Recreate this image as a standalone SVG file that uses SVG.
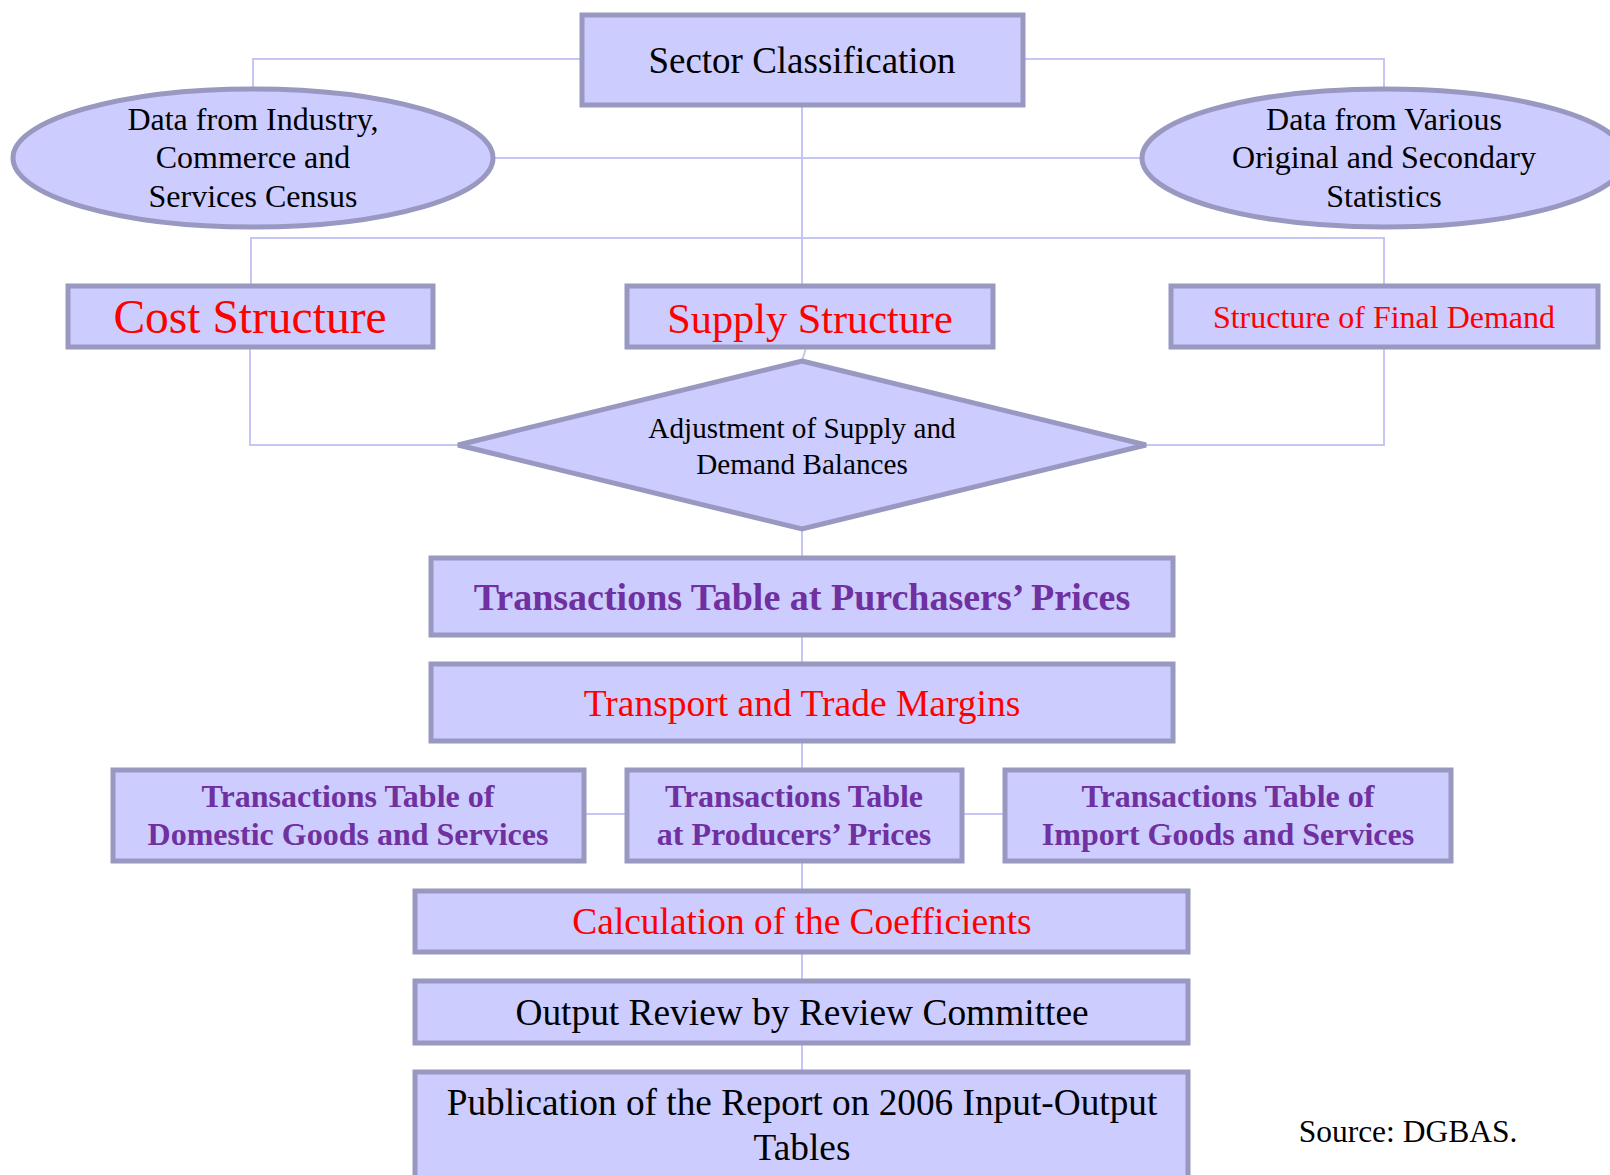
<svg xmlns="http://www.w3.org/2000/svg" width="1610" height="1175" viewBox="0 0 1610 1175">
<style>
.box{fill:#ccccff;stroke:#9898c0;stroke-width:5}
.con{fill:none;stroke:#c6c6f6;stroke-width:2}
text{font-family:"Liberation Serif","Times New Roman",serif;text-anchor:middle}
.blk{fill:#000}
.red{fill:#ff0000}
.pur{fill:#7030a0;font-weight:bold}
</style>
<rect width="1610" height="1175" fill="#ffffff"/>
<g id="connectors">
<polyline class="con" points="582,59 253,59 253,89"/>
<polyline class="con" points="1023,59 1384,59 1384,89"/>
<line class="con" x1="802" y1="106" x2="802" y2="285"/>
<line class="con" x1="493" y1="158" x2="1142" y2="158"/>
<polyline class="con" points="251,285 251,238 1384,238 1384,285"/>
<line class="con" x1="806" y1="348" x2="802" y2="361"/>
<polyline class="con" points="250,348 250,445 458,445"/>
<polyline class="con" points="1384,348 1384,445 1146,445"/>
<line class="con" x1="802" y1="529" x2="802" y2="557"/>
<line class="con" x1="802" y1="636" x2="802" y2="663"/>
<line class="con" x1="802" y1="742" x2="802" y2="769"/>
<line class="con" x1="585" y1="814" x2="627" y2="814"/>
<line class="con" x1="962" y1="814" x2="1005" y2="814"/>
<line class="con" x1="802" y1="862" x2="802" y2="890"/>
<line class="con" x1="802" y1="953" x2="802" y2="980"/>
<line class="con" x1="802" y1="1044" x2="802" y2="1071"/>
</g>
<g id="sector-classification">
<rect class="box" x="582" y="15" width="441" height="90"/>
<text class="blk" x="802" y="73" font-size="37">Sector Classification</text>
</g>
<g id="data-census">
<ellipse class="box" cx="253" cy="158" rx="240" ry="69"/>
<text class="blk" font-size="32"><tspan x="253" y="130">Data from Industry,</tspan><tspan x="253" y="168">Commerce and</tspan><tspan x="253" y="207">Services Census</tspan></text>
</g>
<g id="data-statistics">
<ellipse class="box" cx="1384" cy="158" rx="242" ry="69"/>
<text class="blk" font-size="32"><tspan x="1384" y="130">Data from Various</tspan><tspan x="1384" y="168">Original and Secondary</tspan><tspan x="1384" y="207">Statistics</tspan></text>
</g>
<g id="cost-structure">
<rect class="box" x="68" y="286" width="365" height="61"/>
<text class="red" x="250" y="333" font-size="47.5">Cost Structure</text>
</g>
<g id="supply-structure">
<rect class="box" x="627" y="286" width="366" height="61"/>
<text class="red" x="810" y="333" font-size="42.3">Supply Structure</text>
</g>
<g id="final-demand">
<rect class="box" x="1171" y="286" width="427" height="61"/>
<text class="red" x="1384" y="328" font-size="32">Structure of Final Demand</text>
</g>
<g id="adjustment">
<polygon class="box" points="802,361 1146,445 802,529 458,445"/>
<text class="blk" font-size="29.2"><tspan x="802" y="438">Adjustment of Supply and</tspan><tspan x="802" y="474">Demand Balances</tspan></text>
</g>
<g id="purchasers-prices">
<rect class="box" x="431" y="558" width="742" height="77"/>
<text class="pur" x="802" y="610" font-size="38">Transactions Table at Purchasers’ Prices</text>
</g>
<g id="margins">
<rect class="box" x="431" y="664" width="742" height="77"/>
<text class="red" x="802" y="716" font-size="37.5">Transport and Trade Margins</text>
</g>
<g id="domestic">
<rect class="box" x="113" y="770" width="471" height="91"/>
<text class="pur" font-size="32"><tspan x="348" y="807">Transactions Table of</tspan><tspan x="348" y="845">Domestic Goods and Services</tspan></text>
</g>
<g id="producers-prices">
<rect class="box" x="627" y="770" width="335" height="91"/>
<text class="pur" font-size="32"><tspan x="794" y="807">Transactions Table</tspan><tspan x="794" y="845">at Producers’ Prices</tspan></text>
</g>
<g id="import">
<rect class="box" x="1005" y="770" width="446" height="91"/>
<text class="pur" font-size="32"><tspan x="1228" y="807">Transactions Table of</tspan><tspan x="1228" y="845">Import Goods and Services</tspan></text>
</g>
<g id="coefficients">
<rect class="box" x="415" y="891" width="773" height="61"/>
<text class="red" x="802" y="934" font-size="37.4">Calculation of the Coefficients</text>
</g>
<g id="review">
<rect class="box" x="415" y="981" width="773" height="62"/>
<text class="blk" x="802" y="1025" font-size="37.4">Output Review by Review Committee</text>
</g>
<g id="publication">
<rect class="box" x="415" y="1072" width="773" height="120"/>
<text class="blk" font-size="37.3"><tspan x="802" y="1115">Publication of the Report on 2006 Input-Output</tspan><tspan x="802" y="1160">Tables</tspan></text>
</g>
<text class="blk" x="1408" y="1142" font-size="31.5">Source: DGBAS.</text>
</svg>
